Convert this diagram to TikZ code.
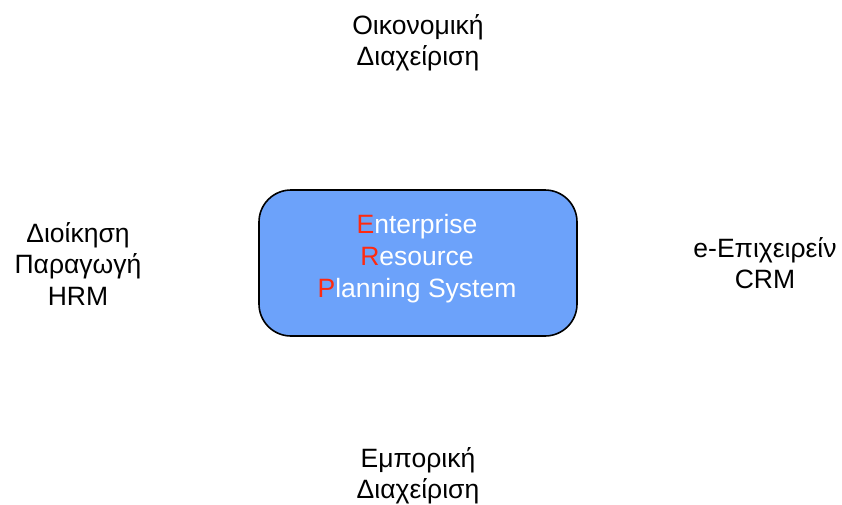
\documentclass[tikz,border=0pt]{standalone}
\usepackage{fontspec}
\setmainfont{Liberation Sans}
\definecolor{erpblue}{HTML}{6CA2FA}
\definecolor{erpred}{HTML}{FF2A10}
\begin{document}
\begin{tikzpicture}[x=1pt,y=-1pt,
  label text/.style={align=center,font=\fontsize{26.5}{31.5}\selectfont,inner sep=0pt},
  core/.style={draw=black,line width=1.6pt,fill=erpblue,rounded corners=32pt,
    minimum width=318pt,minimum height=146pt},
  core text/.style={align=center,text=white,inner sep=0pt,
    font=\fontsize{26.5}{32}\selectfont}]
\useasboundingbox (0,0) rectangle (842,504);
\node[core] (erp) at (418,263) {};
\node[core text] (erptitle) at (417,258.5)
  {\textcolor{erpred}{E}nterprise\\\textcolor{erpred}{R}esource\\\textcolor{erpred}{P}lanning System};
\node[label text] (fin) at (418,43) {Οικονομική\\Διαχείριση};
\node[label text] (prod) at (78,264) {Διοίκηση\\Παραγωγή\\HRM};
\node[label text] (ebiz) at (765,263) {e-Επιχειρείν\\CRM};
\node[label text] (trade) at (418,476) {Εμπορική\\Διαχείριση};
\end{tikzpicture}
\end{document}
